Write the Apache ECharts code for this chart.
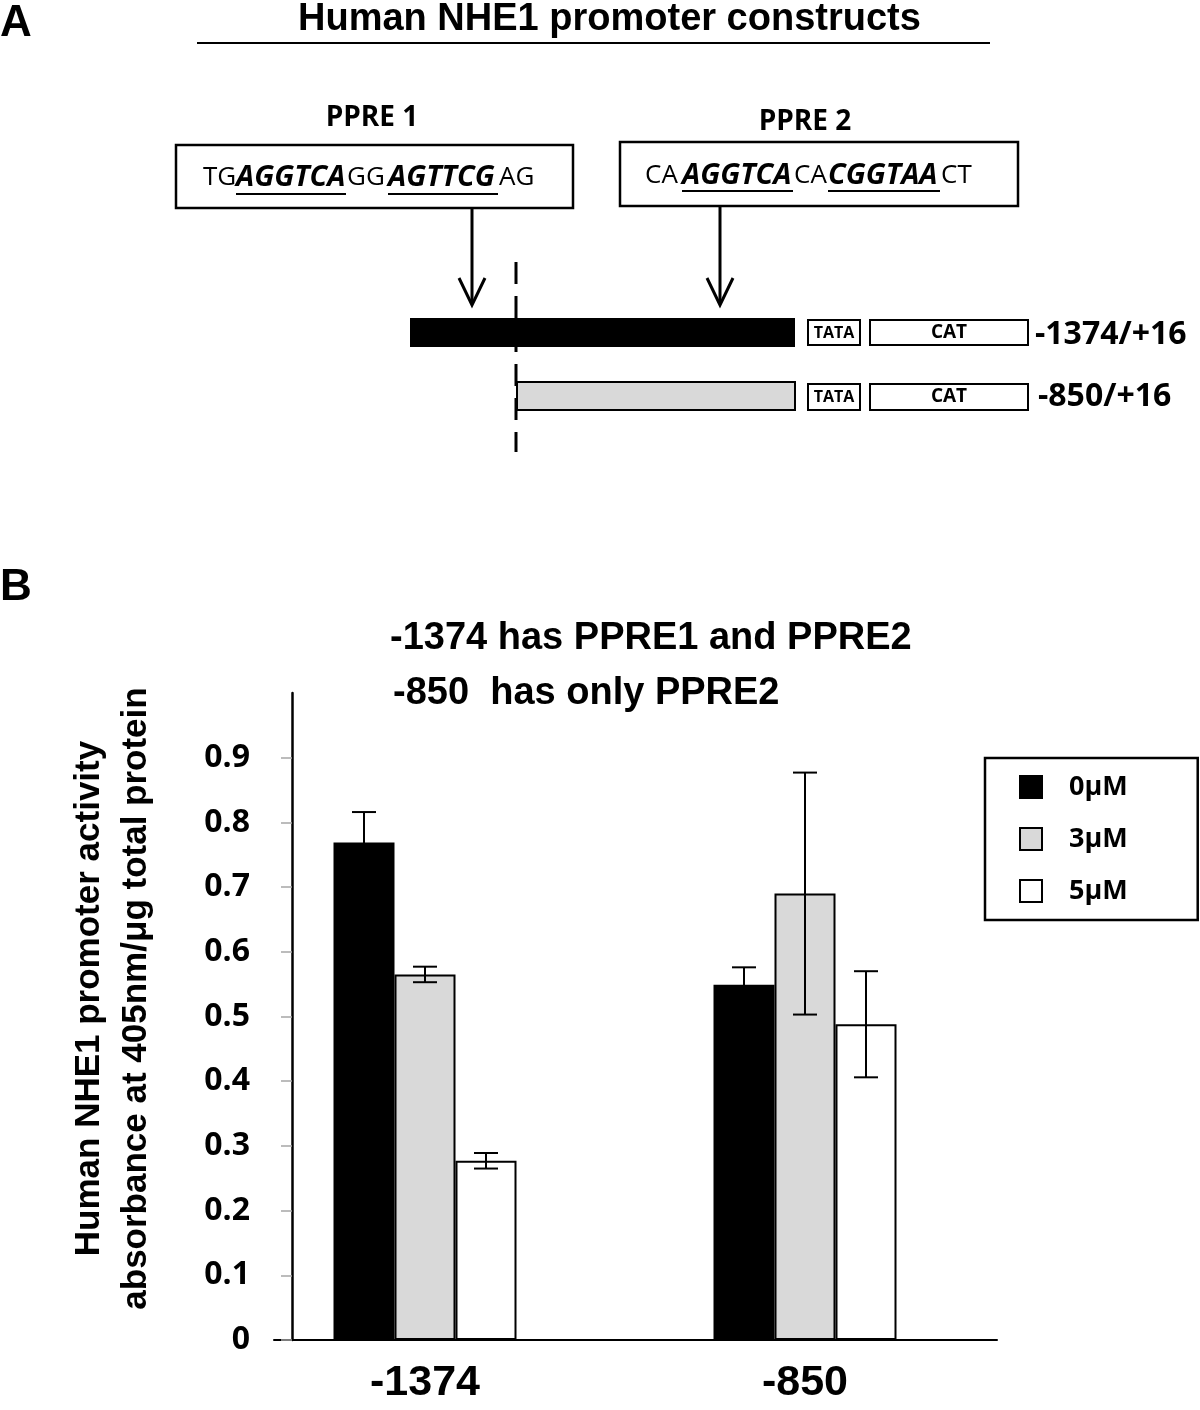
<!DOCTYPE html>
<html>
<head>
<meta charset="utf-8">
<script src="https://cdn.jsdelivr.net/npm/echarts@6/dist/echarts.min.js"></script>
<style>html,body{margin:0;padding:0;background:#fff;}#c{width:1200px;height:1410px;}</style>
</head>
<body>
<div id="c"></div>
<script>
// ---- data ----
const categories = ['-1374', '-850'];
const doses = ['0μM', '3μM', '5μM'];
const mean0 = [0.769, 0.549];
const mean3 = [0.565, 0.690];
const mean5 = [0.277, 0.488];
const err0 = [0.047, 0.027];
const err3 = [0.012, 0.187];
const err5 = [0.012, 0.082];
const yTickValues = [0, 0.1, 0.2, 0.3, 0.4, 0.5, 0.6, 0.7, 0.8, 0.9];

const ARIAL = '"Liberation Sans", Arial, sans-serif';
const CAL = '"Open Sans", "Noto Sans", sans-serif';
const BAR_W = 61;

const means = [mean0, mean3, mean5];
const errs = [err0, err3, err5];
const fills = ['#000000', '#d9d9d9', '#ffffff'];

const chart = echarts.init(document.getElementById('c'), null, {renderer: 'canvas'});

const barSeries = doses.map((d, k) => ({
  name: d,
  type: 'bar',
  xAxisIndex: 0,
  yAxisIndex: 0,
  barWidth: BAR_W,
  barGap: '0%',
  data: means[k],
  itemStyle: {color: fills[k], borderColor: '#000', borderWidth: 2},
  emphasis: {disabled: true},
  z: 2
}));

const errSeries = doses.map((d, k) => ({
  name: d + ' error',
  type: 'custom',
  xAxisIndex: 0,
  yAxisIndex: 0,
  z: 5,
  data: categories.map((c, i) => [i, means[k][i], errs[k][i]]),
  encode: {x: 0, y: 1},
  renderItem: function (params, api) {
    const xi = api.value(0), m = api.value(1), e = api.value(2);
    const top = api.coord([xi, m + e]);
    const bot = api.coord([xi, m - e]);
    const x = top[0] + (k - 1) * BAR_W;
    const cap = 12;
    const st = {stroke: '#000', lineWidth: 2};
    return {
      type: 'group',
      children: [
        {type: 'line', shape: {x1: x, y1: top[1], x2: x, y2: bot[1]}, style: st},
        {type: 'line', shape: {x1: x - cap, y1: top[1], x2: x + cap, y2: top[1]}, style: st},
        {type: 'line', shape: {x1: x - cap, y1: bot[1], x2: x + cap, y2: bot[1]}, style: st}
      ]
    };
  }
}));

function txt(text, x, y, size, opts) {
  opts = opts || {};
  return {
    type: 'text', x: x, y: y, z: 10,
    style: {
      text: text, fill: '#000',
      font: (opts.italic ? 'italic ' : '') + (opts.weight || 'bold') + ' ' + size + 'px ' + (opts.family || CAL),
      align: opts.align || 'left', verticalAlign: opts.va || 'middle'
    }
  };
}
function line(x1, y1, x2, y2, w, dash) {
  return {type: 'line', z: 10, shape: {x1, y1, x2, y2}, style: {stroke: '#000', lineWidth: w || 2, lineDash: dash || null}};
}
function rect(x, y, w, h, fill, lw) {
  return {type: 'rect', z: 10, shape: {x, y, width: w, height: h}, style: {fill: fill || 'none', stroke: '#000', lineWidth: lw == null ? 2 : lw}};
}

const graphics = [
  line(197, 43, 990, 43, 2),
  txt('PPRE 1', 372, 118, 28, {align: 'center'}),
  txt('PPRE 2', 805, 122, 28, {align: 'center'}),
  rect(176, 145, 397, 63, 'none', 2.5),
  rect(620, 142, 398, 64, 'none', 2.5),
  // sequence 1
  txt('TG', 203, 178, 26, {weight: 'normal'}),
  txt('AGGTCA', 236, 178, 29, {italic: true}),
  txt('GG', 347, 178, 26, {weight: 'normal'}),
  txt('AGTTCG', 388, 178, 29, {italic: true}),
  txt('AG', 499, 178, 26, {weight: 'normal'}),
  line(236, 194, 346, 194, 2),
  line(388, 194, 498, 194, 2),
  // sequence 2
  txt('CA', 645, 176, 26, {weight: 'normal'}),
  txt('AGGTCA', 682, 176, 29, {italic: true}),
  txt('CA', 794, 176, 26, {weight: 'normal'}),
  txt('CGGTAA', 828, 176, 29, {italic: true}),
  txt('CT', 941, 176, 26, {weight: 'normal'}),
  line(682, 191, 793, 191, 2),
  line(828, 191, 940, 191, 2),
  // arrows
  line(472, 208, 472, 303, 3),
  {type: 'polyline', z: 10, shape: {points: [[459, 278], [472, 305], [485, 278]]}, style: {stroke: '#000', lineWidth: 3, fill: 'none'}},
  line(720, 206, 720, 303, 3),
  {type: 'polyline', z: 10, shape: {points: [[707, 278], [720, 305], [733, 278]]}, style: {stroke: '#000', lineWidth: 3, fill: 'none'}},
  // constructs
  {type: 'rect', z: 10, shape: {x: 410, y: 318, width: 385, height: 29}, style: {fill: '#000'}},
  rect(808, 320, 52, 25, '#fff', 2),
  txt('TATA', 834, 333, 16, {align: 'center'}),
  rect(870, 320, 158, 25, '#fff', 2),
  txt('CAT', 949, 333, 19, {align: 'center'}),
  txt('-1374/+16', 1035, 335, 32),
  rect(517, 382, 278, 28, '#d9d9d9', 2),
  rect(808, 384, 52, 26, '#fff', 2),
  txt('TATA', 834, 397, 16, {align: 'center'}),
  rect(870, 384, 158, 26, '#fff', 2),
  txt('CAT', 949, 397, 19, {align: 'center'}),
  txt('-850/+16', 1038, 397, 32),
  line(516, 262, 516, 452, 3, [22, 12])
];

const option = {
  backgroundColor: '#fff',
  animation: false,
  title: [
    {text: 'A', left: 0, top: 2, padding: 0, textStyle: {fontFamily: ARIAL, fontWeight: 'bold', fontSize: 44, color: '#000'}},
    {text: 'Human NHE1 promoter constructs', left: 298, top: 1, padding: 0, textStyle: {fontFamily: ARIAL, fontWeight: 'bold', fontSize: 38, color: '#000'}},
    {text: 'B', left: 0, top: 566, padding: 0, textStyle: {fontFamily: ARIAL, fontWeight: 'bold', fontSize: 44, color: '#000'}},
    {text: '-1374 has PPRE1 and PPRE2', left: 390, top: 620, padding: 0, textStyle: {fontFamily: ARIAL, fontWeight: 'bold', fontSize: 38, color: '#000'}},
    {text: '-850  has only PPRE2', left: 393, top: 675, padding: 0, textStyle: {fontFamily: ARIAL, fontWeight: 'bold', fontSize: 38, color: '#000'}}
  ],
  legend: {
    data: doses,
    orient: 'vertical',
    left: 985,
    top: 758,
    padding: [14, 70, 14, 34],
    itemGap: 22,
    itemWidth: 22,
    itemHeight: 22,
    icon: 'rect',
    borderColor: '#000',
    borderWidth: 2.5,
    selectedMode: false,
    textStyle: {fontFamily: CAL, fontWeight: 'bold', fontSize: 27, color: '#000', lineHeight: 30, padding: [0, 0, 0, 22]}
  },
  grid: [
    {left: 235, width: 760, top: 693, height: 647, containLabel: false},
    {left: 274, width: 723, top: 693, height: 647, containLabel: false}
  ],
  xAxis: [
    {
      type: 'category', gridIndex: 0, data: categories,
      axisLine: {show: false}, axisTick: {show: false},
      axisLabel: {fontFamily: ARIAL, fontWeight: 'bold', fontSize: 43, color: '#000', margin: 22}
    },
    {
      type: 'value', gridIndex: 1, min: 0, max: 1,
      axisLine: {show: true, lineStyle: {color: '#000', width: 2}},
      axisTick: {show: false}, axisLabel: {show: false}, splitLine: {show: false}
    }
  ],
  yAxis: [
    {type: 'value', gridIndex: 0, min: 0, max: 1, show: false, splitLine: {show: false}},
    {
      type: 'value', gridIndex: 1, min: 0, max: 1, interval: 0.1, offset: -18,
      name: 'Human NHE1 promoter activity\nabsorbance at 405nm/μg total protein',
      nameLocation: 'middle', nameRotate: 90, nameGap: 132,
      nameTextStyle: {fontFamily: ARIAL, fontWeight: 'bold', fontSize: 35, color: '#000', lineHeight: 47, align: 'center', padding: [0, 0, 0, 36]},
      axisLine: {show: true, lineStyle: {color: '#000', width: 2.5}},
      axisTick: {show: true, length: 11, lineStyle: {color: '#a6a6a6', width: 1.5}, customValues: yTickValues},
      axisLabel: {fontFamily: CAL, fontWeight: 'bold', fontSize: 32, color: '#000', margin: 42, customValues: yTickValues},
      splitLine: {show: false}
    }
  ],
  series: barSeries.concat(errSeries),
  graphic: graphics
};
chart.setOption(option);
</script>
</body>
</html>
